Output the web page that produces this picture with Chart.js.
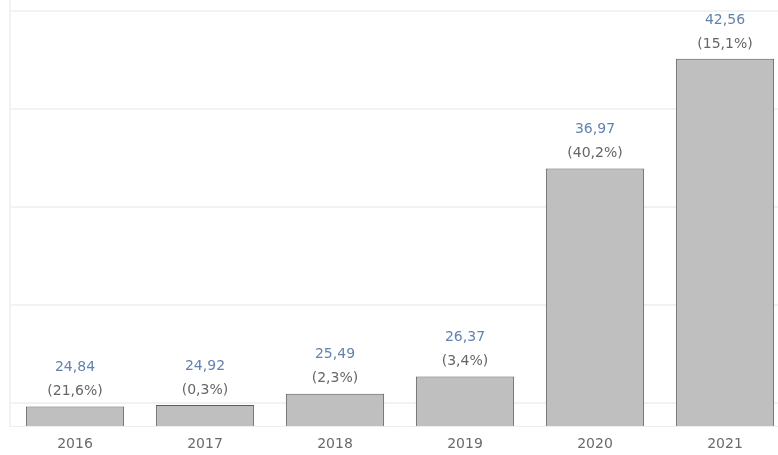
<!DOCTYPE html>
<html>
<head>
<meta charset="utf-8">
<script src="https://cdn.jsdelivr.net/npm/chart.js@4/dist/chart.umd.min.js"></script>
<style>
  html, body { margin: 0; padding: 0; background: #fff; overflow: hidden; }
  #wrap { position: relative; width: 792px; height: 455px; }
</style>
</head>
<body>
<div id="wrap"><canvas id="c"></canvas></div>
<script>
const categories = ['2016', '2017', '2018', '2019', '2020', '2021'];
const values = [24.84, 24.92, 25.49, 26.37, 36.97, 42.56];
const changeLabels = ['(21,6%)', '(0,3%)', '(2,3%)', '(3,4%)', '(40,2%)', '(15,1%)'];
const gridValues = [25, 30, 35, 40, 45];

function fmt(v) { return v.toFixed(2).replace('.', ','); }

const labelPlugin = {
  id: 'barLabels',
  afterDatasetsDraw(chart) {
    const ctx = chart.ctx;
    const meta = chart.getDatasetMeta(0);
    ctx.save();
    ctx.textAlign = 'center';
    ctx.textBaseline = 'middle';
    ctx.font = '14px "DejaVu Sans", sans-serif';
    meta.data.forEach((bar, i) => {
      ctx.fillStyle = '#6283ad';
      ctx.fillText(fmt(values[i]), bar.x, bar.y - 39);
      ctx.fillStyle = '#666666';
      ctx.fillText(changeLabels[i], bar.x, bar.y - 15);
    });
    ctx.restore();
  }
};

new Chart(document.getElementById('c'), {
  type: 'bar',
  data: {
    labels: categories,
    datasets: [{
      data: values,
      backgroundColor: '#bfbfbf',
      borderColor: '#5a5a5a',
      borderWidth: 1,
      borderSkipped: 'start',
      categoryPercentage: 0.756,
      barPercentage: 1.0
    }]
  },
  options: {
    responsive: true,
    maintainAspectRatio: false,
    animation: false,
    layout: { padding: { left: 10, right: 2, top: 0, bottom: 0 } },
    plugins: { legend: { display: false }, tooltip: { enabled: false } },
    scales: {
      x: {
        afterFit(scale) { scale.height = 29; },
        grid: { display: false },
        border: { display: true, color: '#ededed', width: 1 },
        ticks: { color: '#6a6a6a', font: { family: '"DejaVu Sans", sans-serif', size: 14 }, padding: 2 }
      },
      y: {
        min: 23.85,
        max: 45.56,
        afterBuildTicks(scale) { scale.ticks = gridValues.map(v => ({ value: v })); },
        ticks: { display: false },
        grid: { color: '#f2f2f2', lineWidth: 2, drawTicks: false },
        border: { display: true, color: '#f2f2f2', width: 2 }
      }
    }
  },
  plugins: [labelPlugin]
});
</script>
</body>
</html>
